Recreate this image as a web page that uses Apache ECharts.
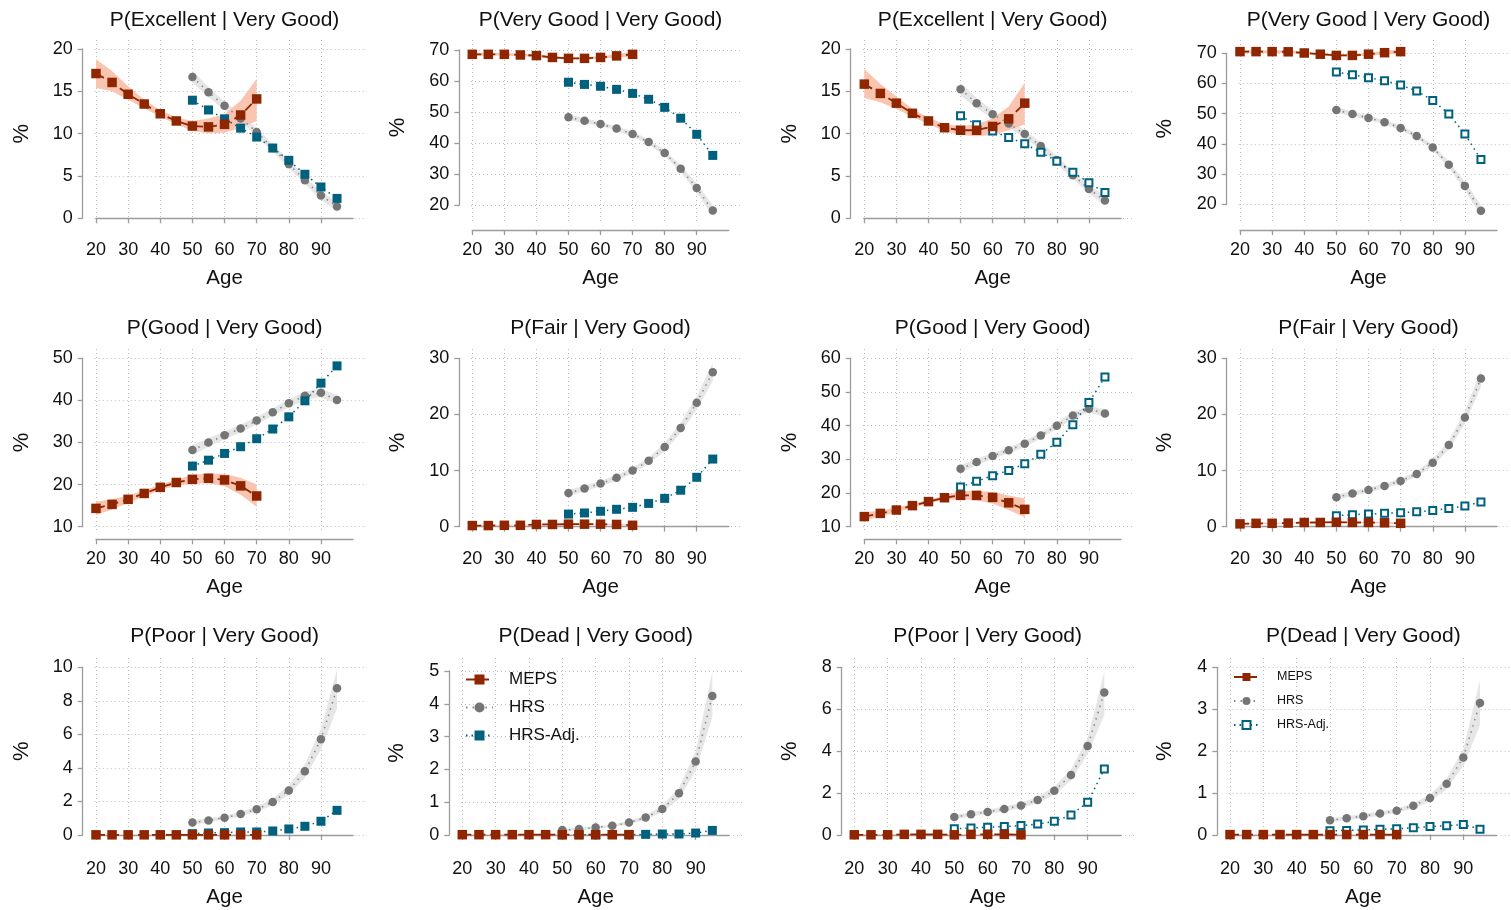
<!DOCTYPE html>
<html><head><meta charset="utf-8">
<script src="https://cdn.jsdelivr.net/npm/echarts@6/dist/echarts.min.js"></script>
<style>html,body{margin:0;padding:0;background:#fff}#c{width:1511px;height:910px}</style>
</head><body><div id="c"></div>
<script>
// ---------------- DATA ----------------
const agesMEPS = [20,25,30,35,40,45,50,55,60,65,70];
const agesHRS  = [50,55,60,65,70,75,80,85,90,95];
const xTicks   = [20,30,40,50,60,70,80,90];

const titles = [
 'P(Excellent | Very Good)','P(Very Good | Very Good)','P(Excellent | Very Good)','P(Very Good | Very Good)',
 'P(Good | Very Good)','P(Fair | Very Good)','P(Good | Very Good)','P(Fair | Very Good)',
 'P(Poor | Very Good)','P(Dead | Very Good)','P(Poor | Very Good)','P(Dead | Very Good)'];
const yTickMin  = [0,20,0,20,10,0,10,0,0,0,0,0];
const yTickMax  = [20,70,20,70,50,30,60,30,10,5,8,4];
const yTickStep = [5,10,5,10,10,10,10,10,2,1,2,1];

const mepsVal = [
 [17.1,16.05,14.65,13.5,12.35,11.5,10.9,10.8,11.1,12.2,14.1],
 [68.6,68.6,68.6,68.4,68.2,67.6,67.3,67.3,67.6,68.1,68.6],
 [15.85,14.75,13.6,12.4,11.5,10.7,10.4,10.4,10.85,11.75,13.6],
 [70.55,70.55,70.55,70.5,70.1,69.7,69.3,69.3,69.7,70.2,70.55],
 [14.35,15.3,16.5,17.9,19.35,20.5,21.25,21.5,21.1,19.7,17.3],
 [0.2,0.2,0.25,0.25,0.4,0.4,0.45,0.45,0.45,0.4,0.25],
 [13.0,13.95,14.95,16.25,17.45,18.6,19.3,19.3,18.7,17.1,15.15],
 [0.5,0.6,0.6,0.65,0.75,0.75,0.8,0.75,0.75,0.7,0.6],
 [0.01,0.01,0.01,0.01,0.01,0.01,0.01,0.01,0.01,0.01,0.01],
 [0.01,0.01,0.01,0.01,0.01,0.01,0.01,0.01,0.01,0.01,0.01],
 [0.01,0.01,0.01,0.03,0.03,0.03,0.01,0.03,0.03,0.03,0.01],
 [0.01,0.01,0.01,0.01,0.01,0.01,0.01,0.01,0.01,0.01,0.01]];
const mepsLo = [
 [15.4,15.0,14.0,13.0,12.0,11.1,10.3,10.05,10.1,10.7,11.5],
 [68.1,68.2,68.2,68.0,67.8,67.2,66.9,66.9,67.2,67.6,67.8],
 [14.2,13.7,12.9,12.0,11.1,10.3,9.85,9.7,9.85,10.4,11.1],
 [70.0,70.1,70.1,70.0,69.7,69.3,68.9,68.9,69.2,69.6,69.8],
 [12.8,14.1,15.6,17.2,18.7,19.8,20.2,20.3,19.6,17.6,14.75],
 [0.1,0.1,0.15,0.15,0.3,0.3,0.35,0.35,0.35,0.3,0.12],
 [11.8,13.1,14.3,15.7,16.9,18.0,18.1,17.8,16.9,14.95,12.8],
 [0.35,0.45,0.5,0.55,0.65,0.65,0.7,0.65,0.62,0.55,0.42],
 [0,0,0,0,0,0,0,0,0,0,0],
 [0,0,0,0,0,0,0,0,0,0,0],
 [0,0,0,0,0,0,0,0,0,0,0],
 [0,0,0,0,0,0,0,0,0,0,0]];
const mepsHi = [
 [18.8,17.4,15.6,14.0,12.8,11.9,11.5,11.8,12.3,13.9,16.5],
 [69.1,69.0,69.0,68.8,68.6,68.0,67.7,67.7,68.0,68.6,69.4],
 [17.6,15.9,14.4,12.9,11.9,11.1,10.9,11.1,11.8,13.2,16.0],
 [71.1,71.0,71.0,71.0,70.5,70.1,69.7,69.7,70.2,70.8,71.3],
 [15.9,16.5,17.4,18.6,20.0,21.2,22.3,22.7,22.5,21.6,20.0],
 [0.3,0.3,0.35,0.35,0.5,0.5,0.55,0.55,0.55,0.5,0.38],
 [14.2,14.8,15.6,16.8,18.0,19.2,20.5,20.7,20.3,19.3,18.4],
 [0.65,0.75,0.7,0.75,0.85,0.85,0.9,0.85,0.88,0.85,0.78],
 [0.03,0.03,0.03,0.03,0.03,0.03,0.03,0.03,0.03,0.03,0.03],
 [0.02,0.02,0.02,0.02,0.02,0.02,0.02,0.02,0.02,0.02,0.02],
 [0.05,0.05,0.05,0.05,0.05,0.05,0.05,0.05,0.05,0.05,0.05],
 [0.02,0.02,0.02,0.02,0.02,0.02,0.02,0.02,0.02,0.02,0.02]];

const hrsVal = [
 [16.7,14.9,13.3,11.8,10.2,8.3,6.4,4.5,2.7,1.4],
 [48.3,47.2,46.1,44.7,42.9,40.3,36.8,31.7,25.5,18.2],
 [15.25,13.6,12.3,11.2,9.95,8.55,6.9,5.1,3.45,2.1],
 [51.2,49.9,48.6,47.2,45.3,42.6,38.8,33.1,26.1,17.9],
 [28.2,30.0,31.7,33.3,35.2,37.2,39.3,41.1,41.8,40.1],
 [6.0,6.8,7.7,8.7,10.0,11.75,14.2,17.6,22.1,27.5],
 [27.2,29.2,31.0,32.7,34.6,37.1,40.0,43.0,45.0,43.6],
 [5.25,5.9,6.55,7.25,8.15,9.4,11.4,14.55,19.45,26.4],
 [0.74,0.87,1.03,1.25,1.53,1.97,2.66,3.8,5.71,8.75],
 [0.15,0.18,0.23,0.28,0.38,0.53,0.79,1.27,2.24,4.24],
 [0.86,0.99,1.1,1.24,1.41,1.67,2.11,2.86,4.24,6.8],
 [0.35,0.4,0.45,0.51,0.58,0.7,0.88,1.22,1.85,3.15]];
const hrsLo = [
 [16.0,14.3,12.8,11.35,9.75,7.85,5.95,4.05,2.2,0.85],
 [47.3,46.4,45.4,44.0,42.1,39.5,35.9,30.6,24.1,16.4],
 [14.5,13.0,11.8,10.75,9.5,8.1,6.45,4.65,2.95,1.55],
 [50.2,49.1,47.9,46.5,44.5,41.8,37.9,32.0,24.7,16.1],
 [27.0,29.0,30.8,32.4,34.3,36.3,38.3,40.1,40.8,39.0],
 [5.4,6.3,7.2,8.2,9.5,11.15,13.5,16.7,20.9,25.9],
 [26.1,28.2,30.1,31.8,33.7,36.2,39.0,42.0,44.0,42.5],
 [4.75,5.45,6.1,6.8,7.7,8.9,10.8,13.75,18.35,24.9],
 [0.6,0.75,0.92,1.12,1.38,1.78,2.4,3.4,5.1,7.55],
 [0.11,0.14,0.19,0.24,0.33,0.46,0.69,1.1,1.95,3.6],
 [0.75,0.88,0.99,1.12,1.28,1.52,1.92,2.6,3.85,5.72],
 [0.3,0.35,0.4,0.46,0.53,0.64,0.8,1.1,1.65,2.62]];
const hrsHi = [
 [17.45,15.5,13.8,12.25,10.65,8.75,6.85,4.95,3.2,1.95],
 [49.3,48.0,46.8,45.4,43.7,41.1,37.7,32.8,26.9,20.0],
 [16.0,14.2,12.8,11.65,10.4,9.0,7.35,5.55,3.95,2.65],
 [52.2,50.7,49.3,47.9,46.1,43.4,39.7,34.2,27.5,19.7],
 [29.4,31.0,32.6,34.2,36.1,38.1,40.3,42.1,42.8,41.2],
 [6.6,7.3,8.2,9.2,10.5,12.35,14.9,18.5,23.3,29.1],
 [28.3,30.2,31.9,33.6,35.5,38.0,41.0,44.0,46.0,44.7],
 [5.75,6.35,7.0,7.7,8.6,9.9,12.0,15.35,20.55,27.9],
 [0.9,1.0,1.15,1.38,1.7,2.17,2.95,4.2,6.35,9.85],
 [0.19,0.22,0.27,0.32,0.43,0.6,0.89,1.44,2.55,4.98],
 [0.97,1.1,1.21,1.36,1.54,1.82,2.3,3.12,4.63,7.8],
 [0.4,0.45,0.5,0.56,0.63,0.76,0.96,1.34,2.05,3.7]];

const adjVal = [
 [13.95,12.8,11.75,10.65,9.6,8.3,6.85,5.2,3.7,2.35],
 [59.6,58.9,58.3,57.3,56.0,54.1,51.5,48.0,42.8,36.0],
 [12.1,11.05,10.3,9.55,8.8,7.8,6.75,5.45,4.2,3.05],
 [63.8,62.9,61.9,60.9,59.5,57.5,54.4,49.9,43.3,34.8],
 [24.4,25.8,27.4,29.0,30.9,33.2,36.1,39.9,44.1,48.2],
 [2.25,2.45,2.75,3.1,3.45,4.15,5.05,6.5,8.8,12.05],
 [21.8,23.5,25.15,26.7,28.7,31.5,35.1,40.3,46.9,54.45],
 [1.95,2.15,2.25,2.4,2.5,2.65,2.9,3.25,3.7,4.4],
 [0.08,0.12,0.14,0.18,0.18,0.24,0.36,0.52,0.82,1.47],
 [0.005,0.005,0.005,0.01,0.01,0.02,0.03,0.03,0.06,0.14],
 [0.3,0.33,0.37,0.4,0.45,0.52,0.65,0.95,1.56,3.15],
 [0.1,0.11,0.12,0.135,0.15,0.17,0.2,0.22,0.25,0.14]];

// ---------------- LAYOUT (pixels) ----------------
// per panel: pixel of x=20, pixel of x=100, y-axis line x, pixel of top tick, pixel of bottom tick, '%' centre x, row
const LAYOUT = [
 [96,353.1,82.7,49,218.3,22,0],[472.3,728.8,459.3,50,205,398.3,0],[864.3,1121,850.7,49,218.3,790,0],[1240,1497,1226.7,53.3,204.3,1165,0],
 [96,353.1,82.7,358.3,526.7,22,1],[472.3,728.8,459.3,358.3,526.7,398.3,1],[864.3,1121,850.7,358.3,526.7,790,1],[1240,1497,1226.7,358.3,526.7,1165,1],
 [96,353.1,82.7,667.3,835,21.7,2],[462.3,729,449.3,671,835,396.7,2],[854.3,1121,841.7,667.3,835,790,2],[1230,1496.7,1217.3,667.3,835,1165,2]];
const ROW_TOP = [40,349,658], ROW_BOT = [223,532,841], ROW_AXIS = [230,539.3,848.7], ROW_TITLE = [20,328.3,636.7];
const XLO = 19.6, XHI = 104.3;

const FONT = '"Liberation Sans", Arial, Helvetica, sans-serif';
const C_MEPS = '#8f2600', C_HRS = '#757575', C_ADJ = '#00617f';
const C_MEPS_BAND = '#f9c5b1', C_HRS_BAND = '#e6e6e6';
const GRIDLINE = {color:'#bcbcbc', width:1, type:[1,3]};
const AXLINE = {color:'#9c9c9c', width:1.3};
const TXT = '#111';

const option = {animation:false, backgroundColor:'#fff', textStyle:{fontFamily:FONT},
  grid:[], xAxis:[], yAxis:[], series:[], title:[], legend:[]};

function bandSeries(idx, ages, lo, hi, color){
  return {type:'custom', xAxisIndex:idx, yAxisIndex:idx, silent:true, z:1,
    data: ages.map((a,k)=>[a, lo[k], hi[k]]),
    encode:{x:0, y:[1,2]},
    renderItem:(params, api)=>{
      if (params.dataIndex !== 0) return null;
      const pts = [];
      for (let k=0;k<ages.length;k++) pts.push(api.coord([ages[k], hi[k]]));
      for (let k=ages.length-1;k>=0;k--) pts.push(api.coord([ages[k], lo[k]]));
      return {type:'polygon', shape:{points:pts}, style:{fill:color, stroke:null}};
    }};
}

for (let i=0;i<12;i++){
  const [x20,x100,yAx,pTop,pBot,nameX,row] = LAYOUT[i];
  const sx=(x100-x20)/80, sy=(pBot-pTop)/(yTickMax[i]-yTickMin[i]);
  const gl = x20+(XLO-20)*sx, gr = x20+(XHI-20)*sx;
  const top=ROW_TOP[row], bot=ROW_BOT[row];
  const ylo = yTickMin[i]-(bot-pBot)/sy, yhi = yTickMax[i]+(pTop-top)/sy;
  const yt=[]; for(let v=yTickMin[i]; v<=yTickMax[i]+1e-9; v+=yTickStep[i]) yt.push(v);
  const hollow = (i%4)>=2;
  const sfx = hollow ? ' ' : '';

  // plot region grid (data + dotted grid lines)
  const gP = option.grid.length;
  option.grid.push({left:gl, top:top, width:gr-gl, height:bot-top});
  option.xAxis.push({gridIndex:gP, type:'value', min:XLO, max:XHI,
    axisLine:{show:false}, axisTick:{show:false, customValues:xTicks}, axisLabel:{show:false, customValues:xTicks},
    splitLine:{show:true, lineStyle:GRIDLINE}});
  option.yAxis.push({gridIndex:gP, type:'value', min:ylo, max:yhi,
    axisLine:{show:false}, axisTick:{show:false, customValues:yt}, axisLabel:{show:false, customValues:yt},
    splitLine:{show:true, lineStyle:GRIDLINE}});
  // axis grid (axis lines, ticks, labels, names)
  const gA = gP+1;
  option.grid.push({left:x20, top:pTop, width:x100-x20, height:pBot-pTop});
  option.xAxis.push({gridIndex:gA, type:'value', min:20, max:100, interval:10, offset:ROW_AXIS[row]-pBot,
    axisLine:{show:true, lineStyle:AXLINE}, axisTick:{show:true, length:5, customValues:xTicks, lineStyle:AXLINE},
    axisLabel:{customValues:xTicks, fontSize:18, color:TXT, margin:11}, splitLine:{show:false},
    name:'Age', nameLocation:'middle', nameGap:38, nameTextStyle:{fontSize:20.5, color:TXT}});
  option.yAxis.push({gridIndex:gA, type:'value', min:yTickMin[i], max:yTickMax[i], interval:yTickStep[i], offset:x20-yAx,
    axisLine:{show:true, lineStyle:AXLINE}, axisTick:{show:true, length:5, lineStyle:AXLINE},
    axisLabel:{fontSize:18, color:TXT, margin:10}, splitLine:{show:false},
    name:'%', nameLocation:'middle', nameRotate:90, nameGap:(yAx-nameX)-11, nameTextStyle:{fontSize:22, color:TXT}});

  option.title.push({text:titles[i], left:(x20+x100)/2, top:ROW_TITLE[row], textAlign:'center', textVerticalAlign:'middle',
    padding:0, textStyle:{fontSize:21, fontWeight:'normal', color:TXT}});

  option.series.push(bandSeries(gP, agesHRS, hrsLo[i], hrsHi[i], C_HRS_BAND));
  option.series.push(bandSeries(gP, agesMEPS, mepsLo[i], mepsHi[i], C_MEPS_BAND));
  option.series.push({type:'line', name:'HRS'+sfx, xAxisIndex:gP, yAxisIndex:gP, z:3,
    data: agesHRS.map((a,k)=>[a, hrsVal[i][k]]),
    symbol:'circle', symbolSize:8.5, itemStyle:{color:C_HRS},
    lineStyle:{color:'#8a8a8a', width:1.6, type:[1.5,5]}});
  option.series.push({type:'line', name:'HRS-Adj.'+sfx, xAxisIndex:gP, yAxisIndex:gP, z:4,
    data: agesHRS.map((a,k)=>[a, adjVal[i][k]]),
    symbol:'rect', symbolSize: hollow ? 7 : 9,
    itemStyle: hollow ? {color:'#ffffff', borderColor:C_ADJ, borderWidth:2} : {color:C_ADJ},
    lineStyle:{color:C_ADJ, width:1.5, type:[1.5,4]}});
  option.series.push({type:'line', name:'MEPS'+sfx, xAxisIndex:gP, yAxisIndex:gP, z:5,
    data: agesMEPS.map((a,k)=>[a, mepsVal[i][k]]),
    symbol:'rect', symbolSize:9.5, itemStyle:{color:C_MEPS},
    lineStyle:{color:C_MEPS, width:1.8, type:[9,5]}});
}

option.legend.push({left:465, top:671, orient:'vertical', itemWidth:27, itemHeight:12.5, itemGap:11, padding:0,
  data:['MEPS','HRS','HRS-Adj.'], selectedMode:false,
  textStyle:{fontSize:17, color:TXT, padding:[0,0,0,11]}});
option.legend.push({left:1233, top:670.5, orient:'vertical', itemWidth:25, itemHeight:10, itemGap:11, padding:0,
  data:['MEPS ','HRS ','HRS-Adj. '], selectedMode:false, formatter:n=>n.trim(),
  textStyle:{fontSize:12.5, color:TXT, padding:[0,0,0,13]}});

const chart = echarts.init(document.getElementById('c'), null, {renderer:'canvas'});
chart.setOption(option);
</script></body></html>
